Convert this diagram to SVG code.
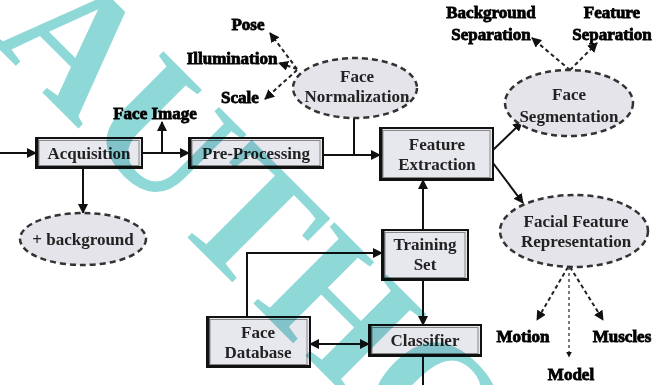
<svg xmlns="http://www.w3.org/2000/svg" width="656" height="385" viewBox="0 0 656 385">
<defs>
<marker id="ah" viewBox="0 0 10 10" refX="9" refY="5" markerWidth="5" markerHeight="5" orient="auto-start-reverse">
<path d="M0,0 L10,5 L0,10 z" fill="#111"/>
</marker>
<style>
.box{fill:#e7e7ee;stroke:#111;stroke-width:2}
.inner{fill:none;stroke:#888;stroke-width:1}
.edge{fill:none;stroke:#111;stroke-width:3}
.ell{fill:#e4e4ea;stroke:#333;stroke-width:2.5;stroke-dasharray:6 4}
.t{font-family:"Liberation Serif","Times New Roman",serif;font-weight:bold;font-size:17px;fill:#222;text-anchor:middle}
.lab{font-family:"Liberation Serif","Times New Roman",serif;font-weight:bold;font-size:17px;fill:#000;stroke:#000;stroke-width:0.8;text-anchor:middle}
.c{fill:none;stroke:#111;stroke-width:2}
.d{fill:none;stroke:#222;stroke-width:2;stroke-dasharray:4 3}
.d2{fill:none;stroke:#222;stroke-width:1.2;stroke-dasharray:3 3}
.wm{font-family:"Liberation Serif","Times New Roman",serif;font-weight:bold;font-size:175px;fill:#8fd8d8;mix-blend-mode:multiply}
</style>
</defs>
<rect width="656" height="385" fill="#fff"/>

<g id="connectors">
<path class="c" d="M0,153 H36" marker-end="url(#ah)"/>
<path class="c" d="M142,153 H189" marker-end="url(#ah)"/>
<path class="c" d="M162,153 V122" marker-end="url(#ah)"/>
<path class="c" d="M83,168 V213" marker-end="url(#ah)"/>
<path class="c" d="M323,155 H380" marker-end="url(#ah)"/>
<path class="c" d="M354,155 V118"/>
<path class="c" d="M493,150 L522,122" marker-end="url(#ah)"/>
<path class="c" d="M493,163 L523,203" marker-end="url(#ah)"/>
<path class="c" d="M423,230 V180" marker-end="url(#ah)"/>
<path class="c" d="M423,280 V325" marker-end="url(#ah)"/>
<path class="c" d="M423,356 V385"/>
<path class="c" d="M247,317 V253 H382" marker-end="url(#ah)"/>
<path class="c" d="M310,344 H369" marker-start="url(#ah)" marker-end="url(#ah)"/>
<path class="d" d="M297,69 L270,33" marker-end="url(#ah)"/>
<path class="d" d="M297,69 L279,63" marker-end="url(#ah)"/>
<path class="d" d="M297,70 L265,99" marker-end="url(#ah)"/>
<path class="d" d="M570,70 L532,38" marker-end="url(#ah)"/>
<path class="d" d="M570,70 L597,43" marker-end="url(#ah)"/>
<path class="d" d="M568,267 L537,320" marker-end="url(#ah)"/>
<path class="d2" d="M569,267 V357" marker-end="url(#ah)"/>
<path class="d" d="M570,267 L603,320" marker-end="url(#ah)"/>
</g>

<g id="acquisition">
<rect class="box" x="36" y="138" width="106" height="30"/>
<rect class="inner" x="39" y="140.5" width="100" height="25"/>
<path class="edge" d="M37,138 V167.5 H142"/>
<text class="t" x="89" y="159">Acquisition</text>
</g>
<g id="preprocessing">
<rect class="box" x="189" y="138" width="134" height="30"/>
<rect class="inner" x="192" y="140.5" width="128" height="25"/>
<path class="edge" d="M190,138 V167.5 H323"/>
<text class="t" x="256" y="159">Pre-Processing</text>
</g>
<g id="feature-extraction">
<rect class="box" x="380" y="128" width="113" height="52"/>
<rect class="inner" x="383" y="130.5" width="107" height="47"/>
<path class="edge" d="M381,128 V179.5 H493"/>
<text class="t" x="437" y="150">Feature</text>
<text class="t" x="437" y="170">Extraction</text>
</g>
<g id="training-set">
<rect class="box" x="382" y="230" width="86" height="50"/>
<rect class="inner" x="385" y="232.5" width="80" height="45"/>
<path class="edge" d="M383,230 V279.5 H468"/>
<text class="t" x="425" y="250">Training</text>
<text class="t" x="425" y="270">Set</text>
</g>
<g id="classifier">
<rect class="box" x="369" y="325" width="112" height="31"/>
<rect class="inner" x="372" y="327.5" width="106" height="26"/>
<path class="edge" d="M370,325 V355.5 H481"/>
<text class="t" x="425" y="346">Classifier</text>
</g>
<g id="face-database">
<rect class="box" x="207" y="317" width="103" height="50"/>
<rect class="inner" x="210" y="319.5" width="97" height="45"/>
<path class="edge" d="M208,317 V366.5 H310"/>
<text class="t" x="258" y="338">Face</text>
<text class="t" x="258" y="358">Database</text>
</g>

<g id="face-normalization">
<ellipse class="ell" cx="355" cy="88" rx="62" ry="30"/>
<text class="t" x="357" y="82">Face</text>
<text class="t" x="357" y="102">Normalization</text>
</g>
<g id="face-segmentation">
<ellipse class="ell" cx="569" cy="103" rx="64" ry="33"/>
<text class="t" x="569" y="100">Face</text>
<text class="t" x="569" y="122">Segmentation</text>
</g>
<g id="facial-feature-representation">
<ellipse class="ell" cx="574" cy="231" rx="74" ry="36"/>
<text class="t" x="576" y="227">Facial Feature</text>
<text class="t" x="576" y="247">Representation</text>
</g>
<g id="background">
<ellipse class="ell" cx="83" cy="239" rx="63" ry="26"/>
<text class="t" x="83" y="245">+ background</text>
</g>

<g id="labels">
<text class="lab" x="155" y="119">Face Image</text>
<text class="lab" x="248" y="30">Pose</text>
<text class="lab" x="232" y="64">Illumination</text>
<text class="lab" x="240" y="103">Scale</text>
<text class="lab" x="491" y="18">Background</text>
<text class="lab" x="491" y="40">Separation</text>
<text class="lab" x="612" y="18">Feature</text>
<text class="lab" x="612" y="40">Separation</text>
<text class="lab" x="523" y="342">Motion</text>
<text class="lab" x="622" y="342">Muscles</text>
<text class="lab" x="571" y="380">Model</text>
</g>

<text class="wm" transform="translate(-10,40) rotate(45)">AUTHOR</text>
</svg>
